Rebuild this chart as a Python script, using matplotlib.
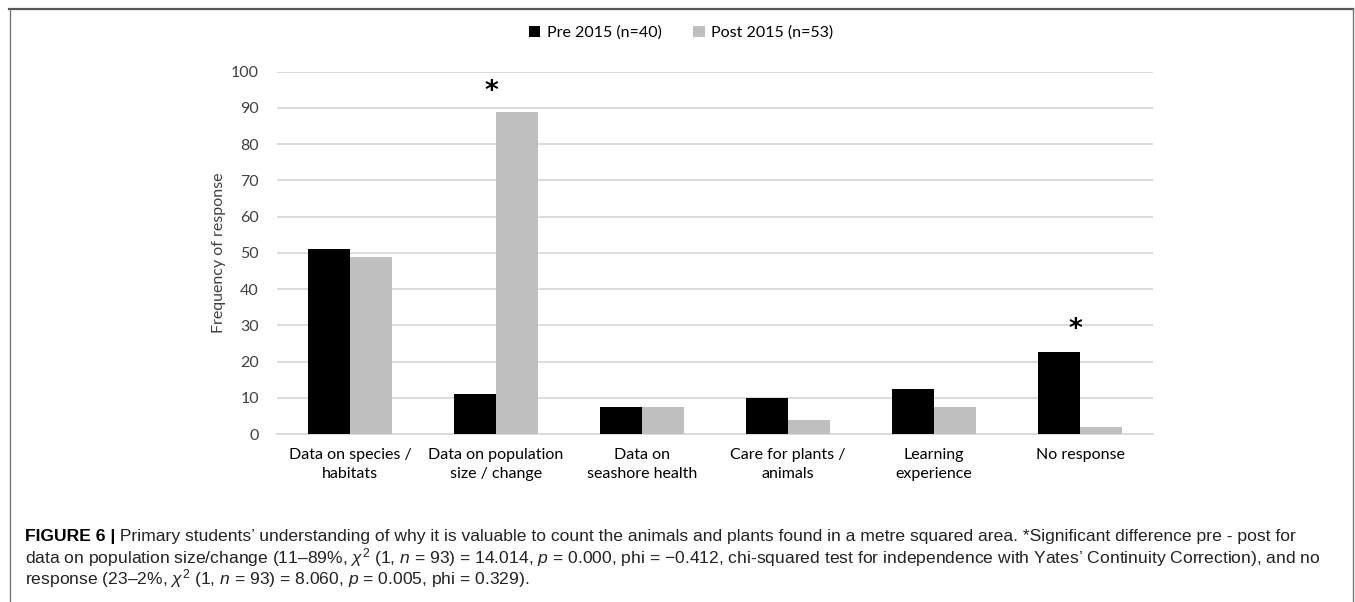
"""
Figure 6: why pupils think counting animals and plants in a quadrat
is worthwhile, before and after 2015 (grouped bar chart + caption).
"""

import matplotlib
matplotlib.use("Agg")
import matplotlib.pyplot as plt
from matplotlib.lines import Line2D
import numpy as np


CATEGORIES = [
    "Data on species /\nhabitats",
    "Data on population\nsize / change",
    "Data on\nseashore health",
    "Care for plants /\nanimals",
    "Learning\nexperience",
    "No response",
]
PRE_2015 = [51.2, 11.0, 7.5, 10.0, 12.4, 22.5]
POST_2015 = [48.9, 88.8, 7.5, 3.8, 7.5, 1.9]
SERIES_NAMES = ["Pre 2015 (n=40)", "Post 2015 (n=53)"]
YTICKS = list(range(0, 101, 10))

# categories with a significant pre/post difference, and the height of the star
STARRED = [1, 5]
STAR_Y = [94.3, 28.6]

CAPTION_BOLD = "FIGURE 6 |"
CAPTION_LINES = [
    " Primary students\u2019 understanding of why it is valuable to count the animals "
    "and plants found in a metre squared area. *Significant difference pre - post for",
    "data on population size/change (11\u201389%, $\\chi^2$ (1, $n$ = 93) = 14.014, "
    "$p$ = 0.000, phi = \u22120.412, chi-squared test for independence with Yates\u2019 "
    "Continuity Correction), and no",
    "response (23\u20132%, $\\chi^2$ (1, $n$ = 93) = 8.060, $p$ = 0.005, phi = 0.329).",
]

CHART_FONT = ["Lato", "DejaVu Sans"]
CAPTION_FONT = ["Liberation Sans", "DejaVu Sans"]
CAPTION_SIZE = 12.6

plt.rcParams["mathtext.fontset"] = "custom"
plt.rcParams["mathtext.rm"] = "Liberation Sans"
plt.rcParams["mathtext.it"] = "Liberation Sans:italic"

W, H = 1355, 602
fig = plt.figure(figsize=(W / 100, H / 100), dpi=100)

# axes box in pixels: x 277..1153, y(0)=434, y(100)=71.7
ax = fig.add_axes([277 / W, 1 - 434 / H, (1153 - 277) / W, (434 - 71.7) / H])

x = np.arange(len(CATEGORIES))
bw = 0.287
ax.bar(x - bw / 2, PRE_2015, bw, color="black", label=SERIES_NAMES[0], zorder=3)
ax.bar(x + bw / 2, POST_2015, bw, color="#bfbfbf", label=SERIES_NAMES[1], zorder=3)

ax.set_xlim(-0.5, len(CATEGORIES) - 0.5)
ax.set_ylim(0, 100)
ax.set_yticks(YTICKS)
ax.set_yticklabels([str(t) for t in YTICKS], family=CHART_FONT, fontsize=11.5,
                   color="#404040")
ax.set_xticks(x)
ax.set_xticklabels(CATEGORIES, family=CHART_FONT, fontsize=11.5, color="black",
                   linespacing=1.45)
ax.tick_params(axis="both", length=0)
ax.tick_params(axis="y", pad=13)
ax.tick_params(axis="x", pad=10)
ax.grid(axis="y", color="#d9d9d9", linewidth=1.3, zorder=0)
for side in ["top", "right", "left"]:
    ax.spines[side].set_visible(False)
ax.spines["bottom"].set_color("#d9d9d9")
ax.spines["bottom"].set_linewidth(1.3)

ax.set_ylabel("Frequency of response", family=CHART_FONT, fontsize=11.5,
              color="#404040")
ax.yaxis.set_label_coords(-0.058, 0.5)

for i, ys in zip(STARRED, STAR_Y):
    ax.text(i - 0.03, ys, "*", ha="center", va="center", fontsize=19,
            fontweight="bold", family="DejaVu Sans")

fig.legend(loc="center", bbox_to_anchor=(681 / W, 1 - 33 / H), ncol=2, frameon=False,
           prop={"family": CHART_FONT, "size": 11.5}, handlelength=0.7,
           handleheight=0.7, handletextpad=0.4, columnspacing=2.0)

# figure frame (open at the bottom)
fig.add_artist(Line2D([9 / W, 1353 / W], [1 - 8.5 / H] * 2, color="#555555", lw=1.6))
fig.add_artist(Line2D([9.5 / W] * 2, [0, 1 - 8.5 / H], color="#777777", lw=1.0))
fig.add_artist(Line2D([1353 / W] * 2, [0, 1 - 8.5 / H], color="#777777", lw=1.0))

# caption: bold label then the regular text on the same line
renderer = fig.canvas.get_renderer()
cx, cy0, step = 25 / W, 537, 21
bold = fig.text(cx, 1 - cy0 / H, CAPTION_BOLD, family=CAPTION_FONT, fontweight="bold",
                fontsize=CAPTION_SIZE, va="center", ha="left")
bb = bold.get_window_extent(renderer)
fig.text(bb.x1 / W, 1 - cy0 / H, CAPTION_LINES[0], family=CAPTION_FONT,
         fontsize=CAPTION_SIZE, va="center", ha="left", color="#222222")
for k, line in enumerate(CAPTION_LINES[1:], start=1):
    fig.text(cx, 1 - (cy0 + step * k) / H, line, family=CAPTION_FONT,
             fontsize=CAPTION_SIZE, va="center", ha="left", color="#222222")

fig.savefig("out.png", dpi=100)
